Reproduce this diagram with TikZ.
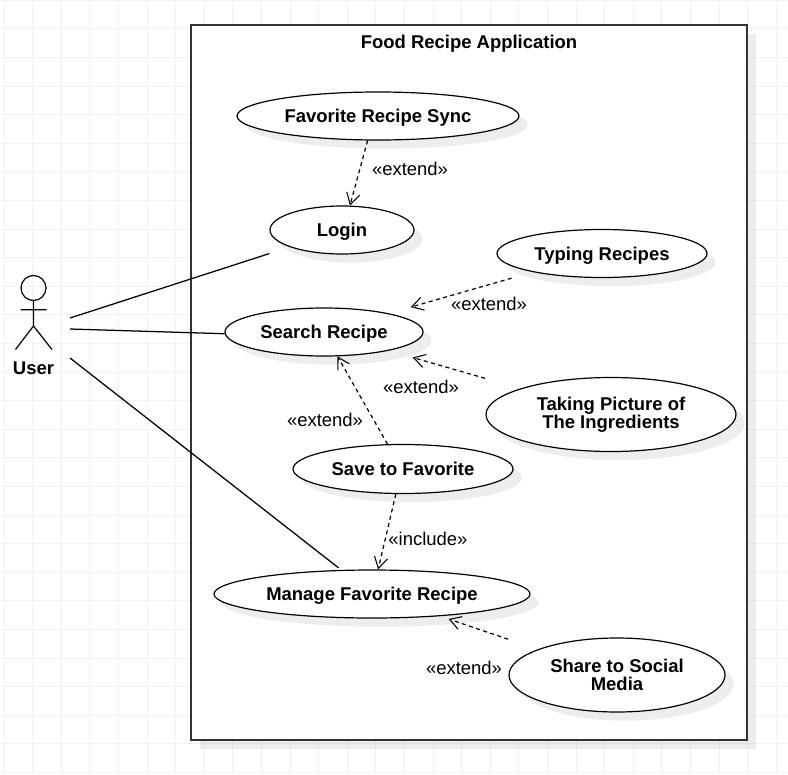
\documentclass[tikz,border=0pt]{standalone}
\usepackage{fontspec}
\setmainfont{Liberation Sans}
\usetikzlibrary{arrows.meta, shapes.geometric, shadows}

\begin{document}
\begin{tikzpicture}[
x=0.75pt, y=-0.75pt,
  soft/.style = {drop shadow={shadow xshift=6.5pt, shadow yshift=-6.5pt, fill=black, opacity=0.07}},
   usecase/.style = {ellipse, draw, fill=white, soft, inner sep=0pt, align=center,
                     line width=0.9pt, font=\fontsize{13.85}{13.6}\selectfont\bfseries},
   oneline/.style = {text height=10pt, text depth=0pt},
   system/.style = {rectangle, draw=black!80, fill=white, soft, line width=1pt, inner sep=0pt},
   stereo/.style = {inner sep=0pt, font=\fontsize{13.85}{16}\selectfont},
   assoc/.style = {black, line width=0.95pt},
   dep/.style = {black, line width=0.9pt, dash pattern=on 3pt off 2.6pt,
                 -{Straight Barb[length=8.5pt,width=10pt,line width=0.8pt]}}
                    ]
\useasboundingbox (0,0) rectangle (788,774);
% paper grid
\foreach \gx in {4,32.6,...,788} \draw[black!5, line width=0.7pt] (\gx,0) -- (\gx,774);
\foreach \gy in {0.2,28.8,...,774} \draw[black!5, line width=0.7pt] (0,\gy) -- (788,\gy);

%nodes
\node[system, minimum width=417pt, minimum height=536.25pt] (app) at (469,382.5) {};
\node[inner sep=0pt, oneline, font=\fontsize{13.85}{16}\selectfont\bfseries] (apptitle) at (469,42) {Food Recipe Application};

\node[usecase, oneline, minimum width=211.5pt, minimum height=36pt] (sync) at (378,116) {Favorite Recipe Sync};
\node[usecase, oneline, minimum width=108pt, minimum height=36pt] (login) at (342,230) {Login};
\node[usecase, oneline, minimum width=157.5pt, minimum height=36pt] (typing) at (602,253.5) {Typing Recipes};
\node[usecase, oneline, minimum width=148.5pt, minimum height=36pt] (search) at (324,332) {Search Recipe};
\node[usecase, minimum width=187.5pt, minimum height=55.5pt] (taking) at (611,414.5) {Taking Picture of\\The Ingredients};
\node[usecase, oneline, minimum width=165pt, minimum height=36.75pt] (save) at (403,469) {Save to Favorite};
\node[usecase, oneline, minimum width=237pt, minimum height=36pt] (manage) at (372,594) {Manage Favorite Recipe};
\node[usecase, minimum width=162pt, minimum height=55.5pt] (share) at (617,675) {Share to Social\\Media};

% actor
\node[circle, draw, line width=0.9pt, minimum size=18.75pt, inner sep=0pt] (head) at (33.5,288) {};
\node[inner sep=0pt, font=\fontsize{13.85}{16}\selectfont\bfseries] (user) at (33.5,368) {User};
\draw[line width=0.9pt] (head.south) -- (33.5,326) -- (15.5,349.5) (33.5,326) -- (52,349.5)
      (20.5,309.7) -- (46.5,309.7);
\coordinate (userA) at (70,318);
\coordinate (userB) at (70,329);
\coordinate (userC) at (70,358);

\node[stereo] (ext1) at (410,169) {«extend»};
\node[stereo] (ext2) at (489,304) {«extend»};
\node[stereo] (ext3) at (421,387) {«extend»};
\node[stereo] (ext4) at (325,420) {«extend»};
\node[stereo] (inc1) at (428,539) {«include»};
\node[stereo] (ext5) at (464,668) {«extend»};

% edges
\draw[assoc, shorten >=16pt] (userA) -- (login.198);
\draw[assoc] (userB) -- (search.181);
\draw[assoc, shorten >=2.5pt] (userC) -- (manage.142);

\draw[dep] (sync.247) -- (login.72);
\draw[dep, shorten <=16.5pt, shorten >=17pt] (typing.195) -- (search.16);
\draw[dep, shorten <=27.5pt, shorten >=18.5pt] (taking.164) -- (search.344);
\draw[dep] (save.122) -- (search.299);
\draw[dep] (save.254) -- (manage.76);
\draw[dep, shorten <=23.5pt, shorten >=6.5pt] (share.162) -- (manage.342);
\end{tikzpicture}
\end{document}
